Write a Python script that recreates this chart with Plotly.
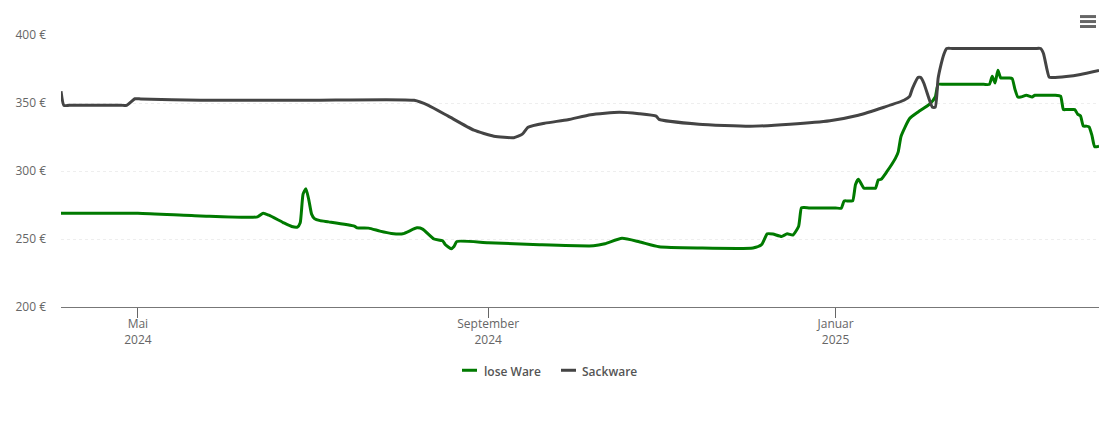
import plotly.graph_objects as go

lose_dates = [
    "2024-04-04", "2024-05-01", "2024-05-23", "2024-06-12", "2024-06-14", "2024-06-16", "2024-06-21",
    "2024-06-24", "2024-06-26", "2024-06-27", "2024-06-28", "2024-06-29", "2024-06-30", "2024-07-01",
    "2024-07-02", "2024-07-04", "2024-07-07", "2024-07-16", "2024-07-17", "2024-07-21", "2024-07-25",
    "2024-07-29", "2024-08-02", "2024-08-07", "2024-08-09", "2024-08-13", "2024-08-16", "2024-08-17",
    "2024-08-19", "2024-08-20", "2024-08-21", "2024-09-01", "2024-09-19", "2024-10-08", "2024-10-12",
    "2024-10-18", "2024-10-24", "2024-10-31", "2024-11-14", "2024-12-03", "2024-12-06", "2024-12-08",
    "2024-12-10", "2024-12-13", "2024-12-15", "2024-12-17", "2024-12-19", "2024-12-20", "2024-12-21",
    "2024-12-23", "2025-01-01", "2025-01-03", "2025-01-04", "2025-01-05", "2025-01-06", "2025-01-07",
    "2025-01-08", "2025-01-09", "2025-01-11", "2025-01-12", "2025-01-14", "2025-01-15",
    "2025-01-16", "2025-01-17", "2025-01-19", "2025-01-22", "2025-01-23", "2025-01-24", "2025-01-27",
    "2025-01-30", "2025-02-03", "2025-02-05", "2025-02-06", "2025-02-08", "2025-02-22", "2025-02-24",
    "2025-02-25", "2025-02-26", "2025-02-27", "2025-02-28", "2025-03-01", "2025-03-03", "2025-03-04",
    "2025-03-05", "2025-03-06", "2025-03-07", "2025-03-09", "2025-03-11", "2025-03-12", "2025-03-14",
    "2025-03-17", "2025-03-19", "2025-03-21", "2025-03-22", "2025-03-23", "2025-03-25", "2025-03-26",
    "2025-03-27", "2025-03-28", "2025-03-29", "2025-03-30", "2025-03-31", "2025-04-01", "2025-04-02",
    "2025-04-03 12:00",
]
lose_values = [
    268.9, 268.9, 267.0, 266.3, 269.0, 267.5, 262.1,
    259.2, 258.8, 262.0, 283.0, 287.0, 279.0, 268.3,
    265.0, 263.5, 262.6, 259.5, 258.2, 258.0, 255.8,
    254.1, 253.8, 258.2, 257.3, 250.0, 248.7, 245.8,
    242.9, 244.5, 248.2, 247.3, 245.8, 245.0, 246.5,
    250.5, 248.0, 244.3, 243.4, 243.4, 245.8, 253.8,
    253.6, 251.9, 253.8, 252.9, 259.2, 272.9, 273.1,
    272.8, 272.8, 272.7, 278.0, 278.0, 278.0, 278.0,
    290.0, 293.9, 287.3, 287.3, 287.3, 287.3,
    293.4, 293.9, 299.5, 309.3, 314.1, 325.6, 338.6,
    343.4, 349.1, 354.4, 363.7, 363.7, 363.7, 363.7,
    369.6, 364.7, 374.0, 368.4, 368.4, 368.4, 368.0,
    360.0, 354.4, 354.4, 355.7, 354.4, 355.7, 355.7,
    355.7, 355.7, 355.0, 345.2, 345.2, 345.2, 345.2,
    341.8, 340.5, 333.0, 333.0, 332.5, 326.4, 317.8,
    318.3,
]

sack_dates = [
    "2024-04-04", "2024-04-05", "2024-04-07", "2024-04-25", "2024-04-27", "2024-04-30", "2024-05-02",
    "2024-05-23", "2024-07-01", "2024-08-06", "2024-08-11",
    "2024-08-18", "2024-08-27", "2024-09-03", "2024-09-10", "2024-09-13", "2024-09-15", "2024-09-21",
    "2024-09-29", "2024-10-07", "2024-10-17", "2024-10-24", "2024-10-30", "2024-10-31", "2024-11-14",
    "2024-12-02", "2024-12-16", "2024-12-30", "2025-01-09", "2025-01-18", "2025-01-25", "2025-01-27",
    "2025-01-28", "2025-01-30", "2025-01-31", "2025-02-01", "2025-02-03", "2025-02-04", "2025-02-05",
    "2025-02-06", "2025-02-07", "2025-02-08", "2025-02-09", "2025-02-11", "2025-03-12", "2025-03-14",
    "2025-03-15", "2025-03-17", "2025-03-18", "2025-03-23", "2025-03-28", "2025-04-03 12:00",
]
sack_values = [
    358.6, 348.3, 348.3, 348.3, 348.3, 353.1, 353.0,
    352.0, 352.0, 352.0, 348.3,
    340.3, 330.0, 325.6, 324.5, 327.1, 332.2, 335.2,
    337.7, 341.4, 343.2, 342.1, 340.3, 338.0, 334.4,
    332.9, 334.4, 337.0, 341.0, 346.9, 352.0, 354.9,
    360.8, 368.9, 368.6, 364.5, 352.0, 346.9, 346.9,
    368.0, 378.0, 385.7, 390.1, 390.1, 390.1, 390.1,
    386.4, 369.0, 368.8, 369.5, 371.0, 374.0,
]

x_ticks = ["2024-05-01", "2024-09-01", "2025-01-01"]
x_labels = ["Mai<br>2024", "September<br>2024", "Januar<br>2025"]
y_ticks = [200, 250, 300, 350, 400]
y_labels = ["200 €", "250 €", "300 €", "350 €", "400 €"]

FONT = "Open Sans"
GREEN = "#007a00"
DARK = "#444444"
GREY = "#666666"

fig = go.Figure()
fig.add_trace(go.Scatter(x=lose_dates, y=lose_values, name="lose Ware", mode="lines",
                         line=dict(color=GREEN, width=3, shape="spline", smoothing=0.5)))
fig.add_trace(go.Scatter(x=sack_dates, y=sack_values, name="Sackware", mode="lines",
                         line=dict(color=DARK, width=3, shape="spline", smoothing=0.5)))

fig.update_layout(
    width=1110, height=422,
    margin=dict(l=61, r=11, t=34.5, b=114.5),
    paper_bgcolor="white", plot_bgcolor="white",
    font=dict(family=FONT, size=12, color=GREY),
    showlegend=False,
    xaxis=dict(range=["2024-04-04", "2025-04-03 12:00"], tickmode="array", tickvals=x_ticks, ticktext=x_labels,
               showgrid=False, ticks="outside", ticklen=10, tickcolor=GREY, tickwidth=1,
               showline=True, linecolor="#777777", linewidth=1, zeroline=False, ticklabelstandoff=-4),
    yaxis=dict(range=[200, 400], tickmode="array", tickvals=y_ticks, ticktext=y_labels,
               showgrid=True, gridcolor="#eeeeee", griddash="dot", gridwidth=1, zeroline=False,
               ticks="", ticklabelstandoff=14),
)


def paper_x(px):
    return (px - 61) / 1038


def paper_y(px):
    return (307.5 - px) / 273


# export menu icon, top right
for y_px in (16, 21, 26):
    fig.add_shape(type="line", xref="paper", yref="paper",
                  x0=paper_x(1080), x1=paper_x(1096), y0=paper_y(y_px), y1=paper_y(y_px),
                  line=dict(color=GREY, width=3))

# legend drawn by hand, plotly keys cannot be this short
for name, color, key_px, text_px in [("lose Ware", GREEN, 462, 483), ("Sackware", DARK, 561, 581)]:
    fig.add_shape(type="line", xref="paper", yref="paper",
                  x0=paper_x(key_px), x1=paper_x(key_px + 15), y0=paper_y(371), y1=paper_y(371),
                  line=dict(color=color, width=3))
    fig.add_annotation(text=name, xref="paper", yref="paper", x=paper_x(text_px), y=paper_y(372),
                       xanchor="left", yanchor="middle", showarrow=False, xshift=-1,
                       font=dict(size=12, color="#555555", weight=600))

fig.write_html("out.html", post_script="document.body.style.margin='0'",
               config={"displayModeBar": False})
